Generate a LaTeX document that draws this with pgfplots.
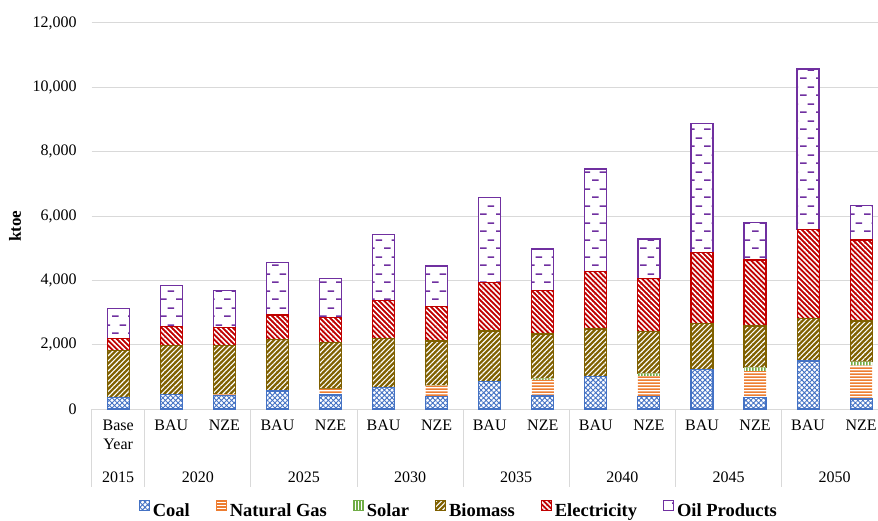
\documentclass[border=0pt]{standalone}
\usepackage{pgfplots}
\pgfplotsset{compat=1.18}
\usepackage{pgfplotstable}
\usepackage{fontspec}
\setmainfont{Liberation Serif}
\usetikzlibrary{patterns.meta}

\definecolor{cCoal}{HTML}{4472C4}
\definecolor{cGas}{HTML}{ED7D31}
\definecolor{cSolar}{HTML}{70AD47}
\definecolor{cBio}{HTML}{7F6000}
\definecolor{cElec}{HTML}{C00000}
\definecolor{cOil}{HTML}{7030A0}
\definecolor{cGrid}{RGB}{217,217,217}

\tikzdeclarepattern{
  name=dashhor,
  type=uncolored,
  bounding box={(0pt,0pt) and (16pt,17pt)},
  tile size={(16pt,17pt)},
  code={
    \fill (0pt,0pt) rectangle (7pt,1.7pt);
    \fill (8pt,8.5pt) rectangle (15pt,10.2pt);
  }
}
\tikzdeclarepattern{
  name=hstripes,
  type=uncolored,
  bounding box={(0pt,0pt) and (100pt,3.4pt)},
  tile size={(100pt,3.4pt)},
  code={\fill (0pt,0pt) rectangle (100pt,2pt);}
}
\tikzdeclarepattern{
  name=vstripes,
  type=uncolored,
  bounding box={(0pt,0pt) and (3.4pt,100pt)},
  tile size={(3.4pt,100pt)},
  code={\fill (0pt,0pt) rectangle (2pt,100pt);}
}

\pgfplotstableread{
x coal gas solar bio elec oil
0  360  0    0   1450 375  945
1  457  0    0   1523 580  1273
2  430  30   0   1508 560  1150
3  560  0    0   1606 756  1626
4  435  187  0   1451 777  1212
5  663  0    0   1534 1170 2063
6  383  342  15  1374 1067 1264
7  850  0    0   1575 1500 2643
8  404  498  52  1377 1347 1296
9  1005 0    0   1482 1782 3192
10 383  643  84  1294 1658 1223
11 1233 0    0   1430 2197 4020
12 352  829  114 1285 2052 1160
13 1492 0    0   1316 2777 4984
14 311  1036 124 1265 2517 1067
}\datatable

\begin{document}
\begin{tikzpicture}
\begin{axis}[
  at={(0pt,0pt)}, anchor=south west,
  scale only axis, width=796pt, height=386pt,
  xmin=-0.5, xmax=14.5, ymin=0, ymax=12000,
  ybar stacked, bar width=22pt,
  clip=false,
  axis line style={draw=none},
  ymajorgrids, grid style={cGrid, line width=1pt},
  ytick={0,2000,...,12000},
  scaled y ticks=false,
  yticklabel style={/pgf/number format/1000 sep={,}, /pgf/number format/assume math mode=true,
     /tikz/font=\fontsize{16}{19}\selectfont, /tikz/xshift=-11.5pt},
  ytick style={draw=none},
  tick pos=left,
  xtick={0,...,14},
  xticklabels={{Base\\Year},BAU,NZE,BAU,NZE,BAU,NZE,BAU,NZE,BAU,NZE,BAU,NZE,BAU,NZE},
  xticklabel style={font=\fontsize{16}{19}\selectfont, align=center, anchor=north, yshift=-7.5pt},
  xtick style={draw=none},
  ylabel={ktoe},
  every axis y label/.style={at={(rel axis cs:0,0.474)}, xshift=-76.7pt, rotate=90, anchor=center,
     font=\fontsize{17}{19}\selectfont\bfseries},
  legend columns=6,
  legend style={at={(0.460,-0.259)}, anchor=center, draw=none, fill=none,
     font=\fontsize{18.5}{22}\selectfont\bfseries,
     nodes={inner sep=0pt},
     /tikz/every odd column/.append style={column sep=3pt},
     /tikz/every even column/.append style={column sep=26pt}},
  legend image code/.code={\draw[#1, line width=1pt] (0.5pt,-0.5pt) rectangle (10.5pt,9.5pt);},
]
\pgfplotsinvokeforeach{-0.5,0.5,2.5,4.5,6.5,8.5,10.5,12.5,14.5}{
  \draw[cGrid, line width=1pt] (axis cs:#1,0) -- ++(0pt,-78pt);
}
\addplot[draw=cCoal, line width=1.1pt, fill=white, postaction={pattern={Hatch[angle=45,distance=3.6pt,line width=0.9pt]}, pattern color=cCoal}]
  table[x=x,y=coal]{\datatable};
\addplot[draw=none, fill=white, postaction={pattern=hstripes, pattern color=cGas},
  legend image code/.code={\draw[draw=cGas, line width=1pt, fill=white, postaction={pattern=hstripes, pattern color=cGas}] (0.5pt,-0.5pt) rectangle (10.5pt,9.5pt);}]
  table[x=x,y=gas]{\datatable};
\addplot[draw=none, fill=white, postaction={pattern=vstripes, pattern color=cSolar},
  legend image code/.code={\draw[draw=cSolar, line width=1pt, fill=white, postaction={pattern=vstripes, pattern color=cSolar}] (0.5pt,-0.5pt) rectangle (10.5pt,9.5pt);}]
  table[x=x,y=solar]{\datatable};
\addplot[draw=cBio, line width=1.1pt, fill=cBio, postaction={pattern={Lines[angle=45,distance=3.6pt,line width=1.1pt]}, pattern color=white}]
  table[x=x,y=bio]{\datatable};
\addplot[draw=cElec, line width=1.1pt, fill=cElec, postaction={pattern={Lines[angle=-45,distance=3.6pt,line width=1.5pt]}, pattern color=white}]
  table[x=x,y=elec]{\datatable};
\addplot[draw=cOil, line width=1.3pt, fill=white, postaction={pattern=dashhor, pattern color=cOil}]
  table[x=x,y=oil]{\datatable};
\legend{Coal,Natural Gas,Solar,Biomass,Electricity,Oil Products}
\foreach \xx/\yy in {0/2015,1.5/2020,3.5/2025,5.5/2030,7.5/2035,9.5/2040,11.5/2045,13.5/2050}{
  \edef\tmp{\noexpand\node[anchor=base, font=\noexpand\fontsize{16}{19}\noexpand\selectfont] at (axis cs:\xx,0) [yshift=-73pt] {\yy};}
  \tmp
}
\end{axis}
\pgfresetboundingbox
\path (-91.7pt,-111pt) rectangle (786.3pt,409pt);
\end{tikzpicture}
\end{document}
